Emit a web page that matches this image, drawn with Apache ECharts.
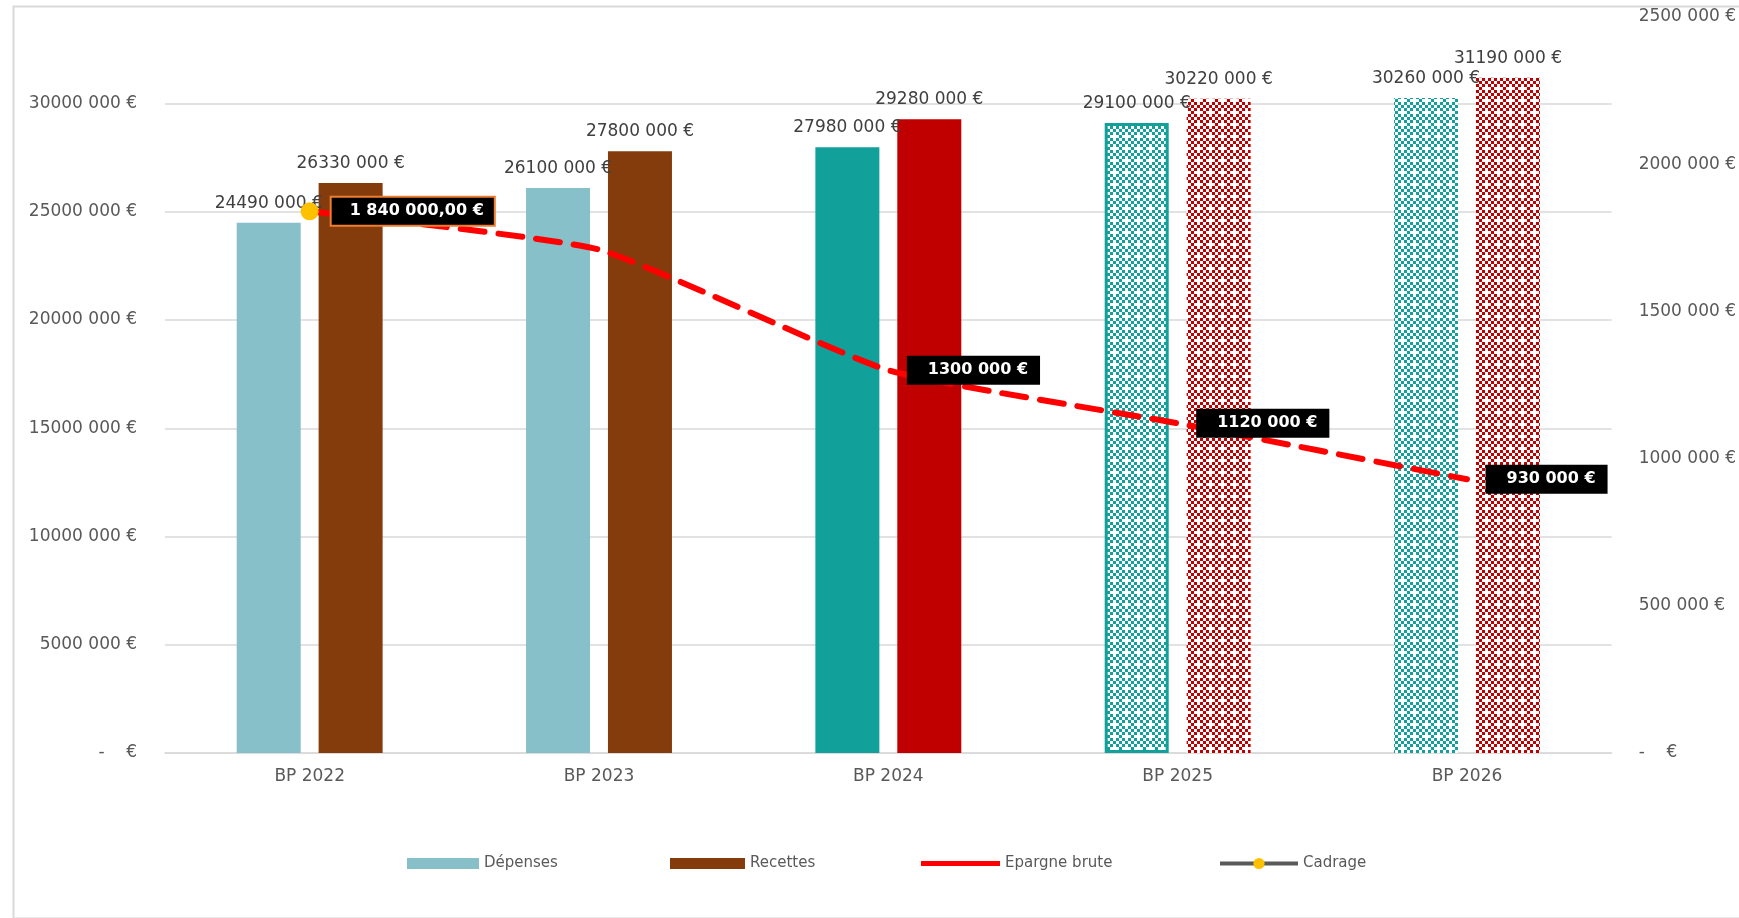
<!DOCTYPE html>
<html>
<head>
<meta charset="utf-8">
<script src="https://cdn.jsdelivr.net/npm/echarts@6/dist/echarts.min.js"></script>
<style>
html,body{margin:0;padding:0;background:#fff;}
#chart{width:1739px;height:918px;}
</style>
</head>
<body>
<div id="chart"></div>
<script>
const categories = ['BP 2022', 'BP 2023', 'BP 2024', 'BP 2025', 'BP 2026'];
const depenses = [24490000, 26100000, 27980000, 29100000, 30260000];
const recettes = [26330000, 27800000, 29280000, 30220000, 31190000];
const epargneBrute = [1840000, 1710000, 1300000, 1120000, 930000];
const cadrage = [1840000, null, null, null, null];
const leftTicks = [0, 5000000, 10000000, 15000000, 20000000, 25000000, 30000000];
const rightTicks = [0, 500000, 1000000, 1500000, 2000000, 2500000];

function fmt(v) {
  if (v === 0) return '-    €';
  const k = Math.floor(v / 1000);
  const r = String(Math.round(v % 1000)).padStart(3, '0');
  return k + ' ' + r + ' €';
}
function fmtFull(v) {
  const s = Math.round(v).toString().replace(/\B(?=(\d{3})+(?!\d))/g, ' ');
  return s + ',00 €';
}
function makePattern(color) {
  const cs = 3;
  const c = document.createElement('canvas');
  c.width = 4 * cs; c.height = 4 * cs;
  const ctx = c.getContext('2d');
  ctx.fillStyle = '#ffffff';
  ctx.fillRect(0, 0, c.width, c.height);
  ctx.fillStyle = color;
  const sel = [[0,0],[2,0],[1,1],[0,2],[2,2],[3,3],[1,3]];
  sel.forEach(([x, y]) => ctx.fillRect(x * cs, y * cs, cs, cs));
  return {image: c, repeat: 'repeat'};
}
const tealPat = makePattern('#12A09A');
const redPat = makePattern('#C00000');

const depColors = ['#88C0CA', '#88C0CA', '#12A09A', tealPat, tealPat];
const recColors = ['#843C0C', '#843C0C', '#C00000', redPat, redPat];

const chart = echarts.init(document.getElementById('chart'), null, {renderer: 'canvas'});
const FONT = 'DejaVu Sans';
const legendText = {color: '#595959', fontSize: 15, fontFamily: FONT, padding: [4, 0, 0, 0]};

const labelBox = {
  show: true, position: 'right', distance: 18,
  backgroundColor: '#000000', color: '#ffffff', fontFamily: FONT,
  fontWeight: 'bold', fontSize: 16, padding: [7, 12, 6, 21],
  formatter: p => fmt(p.value)
};

const option = {
  animation: false,
  backgroundColor: '#ffffff',
  graphic: [{
    type: 'rect', left: 11, top: 4, z: -10,
    shape: {width: 1760, height: 912},
    style: {fill: 'none', stroke: '#d9d9d9', lineWidth: 2}
  }],
  grid: {left: 165, right: 123, top: 17, bottom: 165},
  legend: [
    {data: [{name: 'Dépenses', icon: 'rect'}], left: 402, top: 851, itemWidth: 72, itemHeight: 11, itemGap: 12,
     textStyle: legendText},
    {data: [{name: 'Recettes', icon: 'rect'}], left: 665, top: 851, itemWidth: 75, itemHeight: 11, itemGap: 12,
     textStyle: legendText},
    {data: [{name: 'Epargne brute', icon: 'rect', itemStyle: {color: '#FF0000'}}],
     left: 916, top: 851, itemWidth: 79, itemHeight: 5, itemGap: 12, textStyle: legendText},
    {data: ['Cadrage'], left: 1213, top: 851, itemWidth: 78, itemHeight: 14, itemGap: 12,
     lineStyle: {width: 4, color: '#595959'}, textStyle: legendText}
  ],
  xAxis: {
    type: 'category', data: categories,
    axisLine: {lineStyle: {color: '#d9d9d9', width: 1.5}},
    axisTick: {show: false},
    axisLabel: {color: '#595959', fontSize: 17, fontFamily: FONT, margin: 15}
  },
  yAxis: [{
    type: 'value', min: 0, max: 34000000, interval: 5000000,
    axisLine: {show: false}, axisTick: {show: false},
    splitLine: {lineStyle: {color: '#d9d9d9', width: 1.5}, showMaxLine: false},
    axisLabel: {color: '#595959', fontSize: 17, fontFamily: FONT, margin: 28, showMaxLabel: false,
      formatter: v => leftTicks.indexOf(v) >= 0 ? fmt(v) : ''}
  }, {
    type: 'value', min: 0, max: 2500000, interval: 500000,
    axisLine: {show: false}, axisTick: {show: false}, splitLine: {show: false},
    axisLabel: {color: '#595959', fontSize: 17, fontFamily: FONT, margin: 27, align: 'left',
      formatter: v => rightTicks.indexOf(v) >= 0 ? fmt(v) : ''}
  }],
  series: [{
    name: 'Dépenses', type: 'bar', barWidth: 64, barGap: '28%',
    itemStyle: {color: '#88C0CA'},
    data: depenses.map((v, i) => ({
      value: v,
      itemStyle: i === 3 ? {color: depColors[i], borderColor: '#12A09A', borderWidth: 3} : {color: depColors[i]}
    })),
    label: {show: true, position: 'top', distance: 11, color: '#404040', fontSize: 17, fontFamily: FONT,
      formatter: p => fmt(p.value)}
  }, {
    name: 'Recettes', type: 'bar', barWidth: 64, barGap: '28%',
    itemStyle: {color: '#843C0C'},
    data: recettes.map((v, i) => ({value: v, itemStyle: {color: recColors[i]}})),
    label: {show: true, position: 'top', distance: 11, color: '#404040', fontSize: 17, fontFamily: FONT,
      formatter: p => fmt(p.value)}
  }, {
    name: 'Epargne brute', type: 'line', yAxisIndex: 1, smooth: 0.15, z: 5,
    symbol: 'circle', symbolSize: 1, showSymbol: true,
    lineStyle: {color: '#FF0000', width: 6, type: [24, 14], cap: 'round'},
    itemStyle: {color: 'rgba(255,0,0,0)'},
    data: epargneBrute.map((v, i) => ({
      value: v,
      label: i >= 2 ? labelBox : {show: false}
    }))
  }, {
    name: 'Cadrage', type: 'line', yAxisIndex: 1, z: 6,
    symbol: 'circle', symbolSize: 18, showSymbol: true,
    lineStyle: {color: '#595959', width: 4},
    itemStyle: {color: '#FFC000'},
    data: cadrage,
    label: {
      show: true, position: 'right', distance: 13,
      backgroundColor: '#000000', color: '#ffffff', fontFamily: FONT,
      fontWeight: 'bold', fontSize: 16, padding: [6, 10, 5, 18],
      borderColor: '#ED7D31', borderWidth: 2,
      formatter: p => p.value == null ? '' : fmtFull(p.value)
    }
  }]
};
chart.setOption(option);
</script>
</body>
</html>
